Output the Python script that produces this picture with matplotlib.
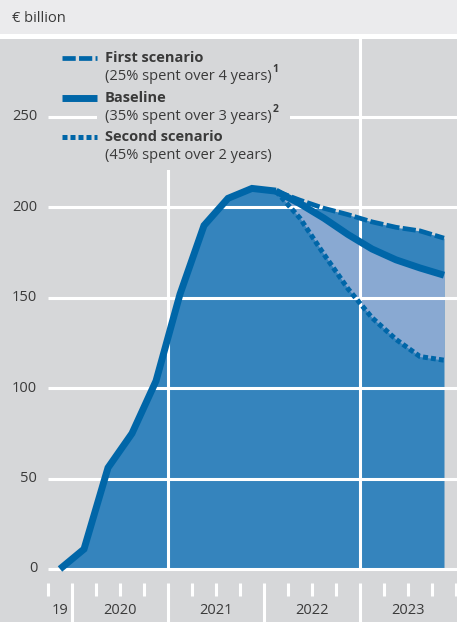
import matplotlib
matplotlib.use("Agg")
import matplotlib.pyplot as plt
from matplotlib.patches import Rectangle
from matplotlib.lines import Line2D

plt.rcParams["font.family"] = ["Open Sans", "DejaVu Sans"]

# Quarterly values, Q4 2019 .. Q4 2023 (EUR billion)
quarters = list(range(17))
history = [0, 11, 56, 75, 104, 152, 190, 205, 210.5, 209]
baseline = [202, 194, 185, 177, 171, 166.5, 162.5]
first_scenario = [204, 199.5, 196, 192, 189, 187, 183]
second_scenario = [194, 174, 155, 139, 127, 117.5, 115.5]
year_labels = ["19", "2020", "2021", "2022", "2023"]
year_centres = [0, 2.5, 6.5, 10.5, 14.5]
y_ticks = [0, 50, 100, 150, 200, 250]

legend_labels = [
    ("First scenario", "(25% spent over 4 years)", "1"),
    ("Baseline", "(35% spent over 3 years)", "2"),
    ("Second scenario", "(45% spent over 2 years)", ""),
]

BG = "#d6d7d9"
HEADER = "#ebebed"
DARK = "#3584bd"
LIGHT = "#89a9d2"
LINE = "#0066a8"
TEXT = "#3a3a3a"

W, H = 457, 622
fig = plt.figure(figsize=(W / 100, H / 100), dpi=100, facecolor="white")

# header band
fig.patches.append(Rectangle((0, 1 - 34 / H), 1, 34 / H, transform=fig.transFigure,
                             facecolor=HEADER, edgecolor="none"))
fig.text(12 / W, 1 - 18 / H, "\u20ac billion", ha="left", va="center",
         fontsize=10.5, color=TEXT)

ax = fig.add_axes([0, 0, 1, (H - 39) / H])
ax.set_facecolor(BG)
for s in ax.spines.values():
    s.set_visible(False)
ax.set_xticks([])
ax.set_yticks([])

px_per_unit = 452 / 250
x_min = -2.5
x_max = (W - 60) / 24
ax.set_xlim(x_min, x_max)
ax.set_ylim(-(H - 569) / px_per_unit, (569 - 39) / px_per_unit)

n_hist = len(history)
tail_x = quarters[n_hist - 1:]
base_full = history + baseline
first_full = history + first_scenario
second_full = history + second_scenario

# areas
ax.fill_between(quarters, 0, first_full, color=DARK, lw=0, zorder=1)
ax.fill_between(quarters, second_full, base_full, color=LIGHT, lw=0, zorder=1.5)

# grid
ax.hlines(y_ticks, -0.5, x_max, color="white", lw=2.2, zorder=2)
ax.vlines([4.5, 12.5], 0, 300, color="white", lw=2.2, zorder=2)
for v in y_ticks:
    ax.text(-0.95, v, str(v), ha="right", va="center", fontsize=10.5, color=TEXT)

# x-axis quarter ticks
y_a = -14 / px_per_unit
y_b = -27 / px_per_unit
y_c = -(H - 569) / px_per_unit
for b in [q - 0.5 for q in quarters] + [16.5]:
    long_tick = b in (0.5, 4.5, 8.5, 12.5)
    ax.vlines(b, y_c if long_tick else y_b, y_a, color="white", lw=2.2,
              clip_on=False, zorder=2)
for xc, lab in zip(year_centres, year_labels):
    ax.text(xc, -42 / px_per_unit, lab, ha="center", va="center",
            fontsize=10.5, color=TEXT)

# lines
ax.plot(quarters[:n_hist], history, color=LINE, lw=5, solid_joinstyle="miter",
        solid_capstyle="butt", zorder=4)
ax.plot(tail_x, [history[-1]] + baseline, color=LINE, lw=5,
        solid_capstyle="butt", zorder=4)
ax.plot(tail_x, [history[-1]] + first_scenario, color=LINE, lw=3.4,
        dashes=(2.8, 0.7), dash_capstyle="butt", zorder=4)
ax.plot(tail_x, [history[-1]] + second_scenario, color=LINE, lw=3.6,
        dashes=(1.0, 0.6), dash_capstyle="butt", zorder=4)

# legend
fig.patches.append(Rectangle((97 / W, 1 - 170 / H), (290 - 97) / W, (170 - 39) / H,
                             transform=fig.transFigure, facecolor=BG,
                             edgecolor="none", zorder=3))
handle_y = [58, 98, 137]
handle_styles = [dict(lw=3.4, dashes=(2.8, 0.7)), dict(lw=5), dict(lw=3.6, dashes=(1.0, 0.6))]
renderer = fig.canvas.get_renderer()
for hy, st, (bold, sub, note) in zip(handle_y, handle_styles, legend_labels):
    fig.add_artist(Line2D([62 / W, 97 / W], [1 - hy / H] * 2, transform=fig.transFigure,
                          color=LINE, solid_capstyle="butt", dash_capstyle="butt",
                          zorder=5, **st))
    fig.text(105 / W, 1 - hy / H, bold, ha="left", va="center", fontsize=10.5,
             fontweight="bold", color=TEXT, zorder=6)
    t = fig.text(105 / W, 1 - (hy + 19) / H, sub, ha="left", va="center",
                 fontsize=10.5, color=TEXT, zorder=6)
    if note:
        ext = t.get_window_extent(renderer)
        fig.text((ext.x1 + 0.5) / W, 1 - (hy + 17) / H, note, ha="left",
                 va="bottom", fontsize=7.5, fontweight="bold", color=TEXT, zorder=6)

fig.savefig("out.png", dpi=100, facecolor="white")
